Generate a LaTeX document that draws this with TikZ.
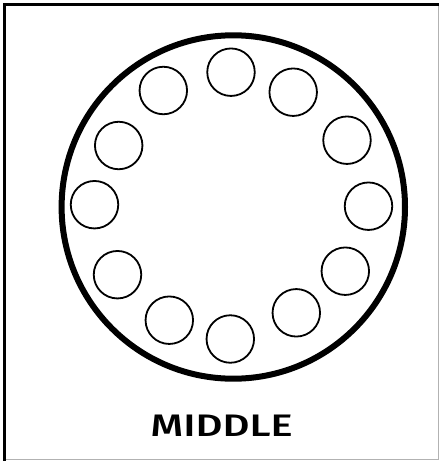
\documentclass[tikz,border=0pt]{standalone}
\usepackage{fontspec}
\setmainfont{Fira Sans}
\begin{document}
\begin{tikzpicture}[x=1pt,y=-1pt,
  smallc/.style={circle,draw=black,line width=1.8pt,minimum size=47.5pt,inner sep=0pt},
  bigc/.style={circle,draw=black,line width=6pt,minimum size=343.4pt,inner sep=0pt},
  label/.style={inner sep=0pt,anchor=south}]
\useasboundingbox (0,0) rectangle (439,461);
\fill[white] (0,0) rectangle (439,461);
% frame
\draw[black!30,line width=1pt] (4.3,459.5) -- (438.5,459.5) -- (438.5,4.3);
\draw[black,line width=3.2pt] (4.3,461) -- (4.3,4.3) -- (439,4.3);
\node[bigc] (big) at (233.3,207) {};
\node[smallc] (c1) at (231,72.2) {};
\node[smallc] (c2) at (293.2,92.2) {};
\node[smallc] (c3) at (347,140.2) {};
\node[smallc] (c4) at (368.5,206.2) {};
\node[smallc] (c5) at (345.3,271.2) {};
\node[smallc] (c6) at (296.3,312.8) {};
\node[smallc] (c7) at (230.3,339) {};
\node[smallc] (c8) at (169.3,320.2) {};
\node[smallc] (c9) at (117.5,274.7) {};
\node[smallc] (c10) at (94.5,204.7) {};
\node[smallc] (c11) at (118.7,145.5) {};
\node[smallc] (c12) at (163.3,90.5) {};
\node[label] (title) at (221.7,436.7) {\resizebox{142pt}{21.5pt}{\fontspec{Fira Sans Medium}MIDDLE}};
\end{tikzpicture}
\end{document}
